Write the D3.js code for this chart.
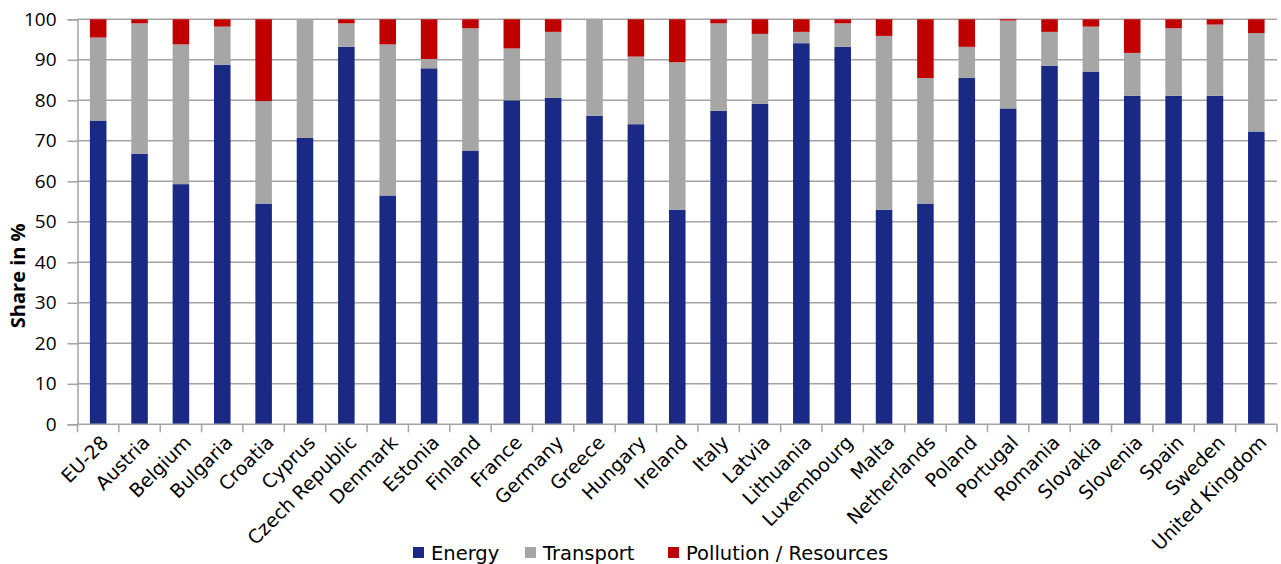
<!DOCTYPE html>
<html>
<head>
<meta charset="utf-8">
<script src="https://cdn.jsdelivr.net/npm/d3@7"></script>
<style>
  html, body { margin: 0; padding: 0; background: #fff; }
  svg { display: block; }
</style>
</head>
<body>
<svg id="chart" width="1281" height="564"></svg>
<script>
// Environmental tax revenue by category, share in %
const categories = ["EU-28", "Austria", "Belgium", "Bulgaria", "Croatia", "Cyprus", "Czech Republic",
  "Denmark", "Estonia", "Finland", "France", "Germany", "Greece", "Hungary", "Ireland", "Italy",
  "Latvia", "Lithuania", "Luxembourg", "Malta", "Netherlands", "Poland", "Portugal", "Romania",
  "Slovakia", "Slovenia", "Spain", "Sweden", "United Kingdom"];

const energy = [75.0, 66.8, 59.3, 88.8, 54.5, 70.7, 93.2, 56.5, 87.9, 67.6, 80.0, 80.6, 76.2, 74.1,
  53.0, 77.4, 79.1, 94.1, 93.2, 53.0, 54.5, 85.5, 78.0, 88.5, 87.1, 81.1, 81.1, 81.1, 72.3];

const transport = [20.5, 32.2, 34.5, 9.4, 25.3, 29.3, 5.8, 37.3, 2.3, 30.2, 12.8, 16.3, 23.8, 16.7,
  36.4, 21.6, 17.3, 2.8, 5.8, 42.9, 31.0, 7.7, 21.7, 8.4, 11.1, 10.6, 16.7, 17.6, 24.3];

const pollution = [4.5, 1.0, 6.2, 1.8, 20.2, 0.0, 1.0, 6.2, 9.8, 2.2, 7.2, 3.1, 0.0, 9.2,
  10.6, 1.0, 3.6, 3.1, 1.0, 4.1, 14.5, 6.8, 0.3, 3.1, 1.8, 8.3, 2.2, 1.3, 3.4];

const seriesNames = ["Energy", "Transport", "Pollution / Resources"];
const seriesKeys = ["energy", "transport", "pollution"];
const yTicks = [0, 10, 20, 30, 40, 50, 60, 70, 80, 90, 100];
const yLabel = "Share in %";

const colors = { energy: "#1a2a84", transport: "#a6a6a6", pollution: "#c00000" };

const rows = categories.map((c, i) => ({
  country: c, energy: energy[i], transport: transport[i], pollution: pollution[i]
}));

const svg = d3.select("#chart");
const plot = { left: 77.5, right: 1277, top: 19.3, bottom: 424.3 };

const x = d3.scaleBand()
  .domain(categories)
  .range([plot.left, plot.right])
  .paddingInner(0.6)
  .paddingOuter(0.3);

const y = d3.scaleLinear().domain([0, 100]).range([plot.bottom, plot.top]);

const gridColor = "#a3a3a3";

// horizontal gridlines
svg.append("g")
  .selectAll("line")
  .data(yTicks.filter(t => t > 0))
  .join("line")
  .attr("x1", plot.left).attr("x2", plot.right)
  .attr("y1", d => y(d)).attr("y2", d => y(d))
  .attr("stroke", gridColor).attr("stroke-width", 1.5);

// stacked bars
const stack = d3.stack().keys(seriesKeys);
const layers = stack(rows);

svg.append("g")
  .selectAll("g")
  .data(layers)
  .join("g")
  .attr("fill", d => colors[d.key])
  .selectAll("rect")
  .data(d => d)
  .join("rect")
  .attr("x", d => x(d.data.country))
  .attr("width", x.bandwidth())
  .attr("y", d => y(d[1]))
  .attr("height", d => Math.max(0, y(d[0]) - y(d[1])));

// y axis
const yAxis = d3.axisLeft(y).tickValues(yTicks).tickSize(10).tickPadding(11);
const gy = svg.append("g")
  .attr("transform", `translate(${plot.left},0)`)
  .call(yAxis);
gy.select(".domain").attr("stroke", gridColor).attr("stroke-width", 1.5);
gy.selectAll(".tick line").attr("stroke", gridColor).attr("stroke-width", 1.5);
gy.selectAll(".tick text")
  .attr("font-family", "'Open Sans', sans-serif")
  .attr("font-size", 19)
  .attr("fill", "#000");

// x axis: baseline, boundary ticks and rotated labels
const step = x.step();
const start = x(categories[0]) - step * x.paddingInner() / 2;
const boundaries = d3.range(categories.length + 1).map(i => start + i * step);

svg.append("line")
  .attr("x1", plot.left).attr("x2", plot.right)
  .attr("y1", y(0)).attr("y2", y(0))
  .attr("stroke", gridColor).attr("stroke-width", 1.5);

svg.append("g")
  .selectAll("line")
  .data(boundaries)
  .join("line")
  .attr("x1", d => d).attr("x2", d => d)
  .attr("y1", y(0)).attr("y2", y(0) + 8)
  .attr("stroke", gridColor).attr("stroke-width", 1.5);

svg.append("g")
  .selectAll("text")
  .data(categories)
  .join("text")
  .attr("transform", d => `translate(${x(d) + x.bandwidth() / 2 + 2},${y(0) + 10}) rotate(-45)`)
  .attr("text-anchor", "end")
  .attr("dy", "0.7em")
  .attr("font-family", "'DejaVu Sans', sans-serif")
  .attr("font-size", 19)
  .attr("fill", "#000")
  .text(d => d);

// y axis title
svg.append("text")
  .attr("transform", `translate(25,${(plot.top + plot.bottom) / 2 + 54}) rotate(-90)`)
  .attr("text-anchor", "middle")
  .attr("font-family", "'Open Sans', sans-serif")
  .attr("font-weight", "bold")
  .attr("font-size", 20)
  .attr("fill", "#000")
  .text(yLabel);

// legend
const legendX = [413, 525, 668];
const legend = svg.append("g")
  .selectAll("g")
  .data(seriesKeys)
  .join("g")
  .attr("transform", (d, i) => `translate(${legendX[i]},547)`);
legend.append("rect")
  .attr("width", 11).attr("height", 11)
  .attr("fill", d => colors[d]);
legend.append("text")
  .attr("x", 18).attr("y", 13)
  .attr("font-family", "'DejaVu Sans', sans-serif")
  .attr("font-size", 19.5)
  .attr("fill", "#000")
  .text((d, i) => seriesNames[i]);
</script>
</body>
</html>
